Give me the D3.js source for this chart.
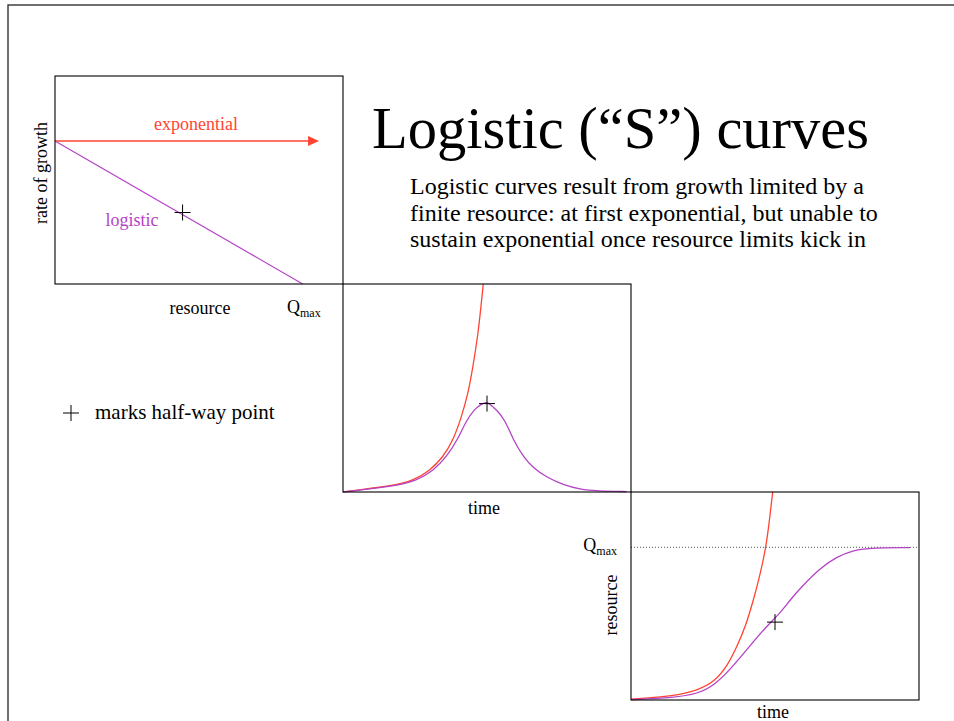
<!DOCTYPE html>
<html>
<head>
<meta charset="utf-8">
<script src="https://d3js.org/d3.v7.min.js"></script>
<style>
  body { margin: 0; background: #fff; }
  svg { display: block; }
  text { font-family: "Liberation Serif", "Times New Roman", serif; fill: #000; }
</style>
</head>
<body>
<svg></svg>
<script>
  // panel 1: rate of growth vs resource (resource as fraction of Qmax)
  var rateResource = [0, 1];
  var rateLogistic = [1, 0];
  var rateExpResource = [0, 1.066];
  var rateExp = [1, 1];
  var halfRate = [0.515, 0.5];

  // panel 2: rate of growth vs time
  var expRateTime = [0, 1.74, 2.43, 3.01, 3.47, 3.82, 4.11, 4.34, 4.51, 4.69, 4.80, 4.87];
  var expRateValue = [0.001, 0.030, 0.054, 0.102, 0.167, 0.247, 0.359, 0.471, 0.600, 0.760, 0.904, 1.0];
  var logRateTime = [0, 1.74, 2.55, 3.13, 3.59, 3.99, 4.28, 4.57, 4.80, 4.98, 5.05, 5.34, 5.63, 5.91, 6.26, 6.61, 7.07, 7.65, 8.23, 8.81, 9.85];
  var logRateValue = [0.0, 0.027, 0.054, 0.102, 0.167, 0.255, 0.343, 0.399, 0.423, 0.431, 0.429, 0.394, 0.346, 0.250, 0.170, 0.114, 0.071, 0.034, 0.013, 0.005, 0.002];
  var halfTimeRate = [5.0, 0.425];

  // panel 3: resource vs time (Qmax = 1)
  var expResTime = [0, 1.50, 2.32, 2.89, 3.36, 3.70, 3.99, 4.23, 4.45, 4.69, 4.80, 4.92];
  var expResValue = [0.005, 0.026, 0.064, 0.118, 0.227, 0.358, 0.489, 0.642, 0.794, 1.002, 1.166, 1.362];
  var logResTime = [0, 1.50, 2.32, 2.89, 3.47, 4.05, 4.63, 5.21, 5.52, 5.98, 6.56, 7.14, 7.72, 8.18, 9.69];
  var logResValue = [0.002, 0.015, 0.041, 0.096, 0.205, 0.336, 0.467, 0.576, 0.655, 0.753, 0.862, 0.938, 0.978, 0.996, 0.998];
  var halfTimeRes = [5.0, 0.51];
  var qmax = 1;

  var titleText = 'Logistic (\u201cS\u201d) curves';
  var bodyLines = [
    'Logistic curves result from growth limited by a',
    'finite resource: at first exponential, but unable to',
    'sustain exponential once resource limits kick in'
  ];

  var width = 954;
  var height = 721;
  var red = '#ff4433';
  var purple = '#b443c6';
  var pw = 288, ph = 208;
  var panels = [{ x: 55, y: 76 }, { x: 343, y: 284 }, { x: 631, y: 492 }];

  var svg = d3.select('svg')
    .attr('width', width)
    .attr('height', height);

  // page frame
  svg.append('rect')
    .attr('x', 8)
    .attr('y', 5)
    .attr('width', width)
    .attr('height', height)
    .attr('fill', 'none')
    .attr('stroke', '#333')
    .attr('stroke-width', 1.4);

  function zip(a, b) {
    return a.map(function (d, i) { return [d, b[i]]; });
  }

  function plus(g, x, y) {
    g.append('path')
      .attr('d', 'M' + (x - 8) + ',' + y + 'H' + (x + 8) + 'M' + x + ',' + (y - 8) + 'V' + (y + 8))
      .attr('stroke', '#000')
      .attr('stroke-width', 1)
      .attr('fill', 'none');
  }

  function qmaxLabel(g, x, y, anchor) {
    var t = g.append('text')
      .attr('x', x)
      .attr('y', y)
      .attr('text-anchor', anchor)
      .style('font-size', '18px');
    t.append('tspan').text('Q');
    t.append('tspan').attr('dy', 4).style('font-size', '12px').text('max');
  }

  var defs = svg.append('defs');
  panels.forEach(function (p, i) {
    defs.append('clipPath')
      .attr('id', 'clip' + i)
      .append('rect')
      .attr('x', p.x)
      .attr('y', p.y)
      .attr('width', pw)
      .attr('height', ph);
  });

  // ---- panel 1
  var p1 = panels[0];
  var x1 = d3.scaleLinear().domain([0, 1]).range([p1.x, p1.x + 247.7]);
  var y1 = d3.scaleLinear().domain([0, 1]).range([p1.y + ph, p1.y + 65]);
  var g1 = svg.append('g');
  var line1 = d3.line()
    .x(function (d) { return x1(d[0]); })
    .y(function (d) { return y1(d[1]); });

  g1.append('path')
    .datum(zip(rateResource, rateLogistic))
    .attr('d', line1)
    .attr('fill', 'none')
    .attr('stroke', purple)
    .attr('stroke-width', 1.2);

  var ax0 = x1(rateExpResource[0]), ax1 = x1(rateExpResource[1]), ay = y1(rateExp[0]);
  g1.append('line')
    .attr('x1', ax0)
    .attr('y1', ay)
    .attr('x2', ax1 - 9)
    .attr('y2', ay)
    .attr('stroke', red)
    .attr('stroke-width', 1.6);
  g1.append('path')
    .attr('d', 'M' + ax1 + ',' + ay + 'L' + (ax1 - 11) + ',' + (ay - 5) + 'L' + (ax1 - 11) + ',' + (ay + 5) + 'Z')
    .attr('fill', red);

  plus(g1, x1(halfRate[0]), y1(halfRate[1]));

  g1.append('text')
    .attr('x', 196)
    .attr('y', 130)
    .attr('text-anchor', 'middle')
    .style('font-size', '18px')
    .style('fill', red)
    .text('exponential');
  g1.append('text')
    .attr('x', 132)
    .attr('y', 226)
    .attr('text-anchor', 'middle')
    .style('font-size', '18px')
    .style('fill', purple)
    .text('logistic');
  g1.append('text')
    .attr('transform', 'translate(47,173) rotate(-90)')
    .attr('text-anchor', 'middle')
    .style('font-size', '18px')
    .text('rate of growth');
  g1.append('text')
    .attr('x', 200)
    .attr('y', 314)
    .attr('text-anchor', 'middle')
    .style('font-size', '18px')
    .text('resource');
  qmaxLabel(g1, 287, 313, 'start');

  // ---- panel 2
  var p2 = panels[1];
  var x2 = d3.scaleLinear().domain([0, 10]).range([p2.x, p2.x + pw]);
  var y2 = d3.scaleLinear().domain([0, 1]).range([p2.y + ph, p2.y]);
  var line2 = d3.line()
    .curve(d3.curveBasis)
    .x(function (d) { return x2(d[0]); })
    .y(function (d) { return y2(d[1]); });
  var g2 = svg.append('g');
  g2.append('path')
    .datum(zip(expRateTime, expRateValue))
    .attr('d', line2)
    .attr('clip-path', 'url(#clip1)')
    .attr('fill', 'none')
    .attr('stroke', red)
    .attr('stroke-width', 1.3);
  g2.append('path')
    .datum(zip(logRateTime, logRateValue))
    .attr('d', line2)
    .attr('fill', 'none')
    .attr('stroke', purple)
    .attr('stroke-width', 1.3);
  plus(g2, x2(halfTimeRate[0]), y2(halfTimeRate[1]));
  g2.append('text')
    .attr('x', x2(4.9))
    .attr('y', p2.y + ph + 22)
    .attr('text-anchor', 'middle')
    .style('font-size', '18px')
    .text('time');

  // ---- panel 3
  var p3 = panels[2];
  var x3 = d3.scaleLinear().domain([0, 10]).range([p3.x, p3.x + pw]);
  var y3 = d3.scaleLinear().domain([0, 1]).range([p3.y + ph, p3.y + 55.3]);
  var line3 = d3.line()
    .curve(d3.curveBasis)
    .x(function (d) { return x3(d[0]); })
    .y(function (d) { return y3(d[1]); });
  var g3 = svg.append('g');
  g3.append('line')
    .attr('x1', p3.x)
    .attr('x2', p3.x + pw - 1)
    .attr('y1', y3(qmax))
    .attr('y2', y3(qmax))
    .attr('stroke', '#555')
    .attr('stroke-width', 1)
    .attr('stroke-dasharray', '1,2');
  g3.append('path')
    .datum(zip(expResTime, expResValue))
    .attr('d', line3)
    .attr('clip-path', 'url(#clip2)')
    .attr('fill', 'none')
    .attr('stroke', red)
    .attr('stroke-width', 1.3);
  g3.append('path')
    .datum(zip(logResTime, logResValue))
    .attr('d', line3)
    .attr('fill', 'none')
    .attr('stroke', purple)
    .attr('stroke-width', 1.3);
  plus(g3, x3(halfTimeRes[0]), y3(halfTimeRes[1]));
  qmaxLabel(g3, 617, y3(qmax) + 4, 'end');
  g3.append('text')
    .attr('transform', 'translate(617,' + (p3.y + 113) + ') rotate(-90)')
    .attr('text-anchor', 'middle')
    .style('font-size', '18px')
    .text('resource');
  g3.append('text')
    .attr('x', x3(4.93))
    .attr('y', p3.y + ph + 18)
    .attr('text-anchor', 'middle')
    .style('font-size', '18px')
    .text('time');

  // panel frames
  svg.append('g')
    .selectAll('rect')
    .data(panels)
    .enter()
    .append('rect')
    .attr('x', function (d) { return d.x; })
    .attr('y', function (d) { return d.y; })
    .attr('width', pw)
    .attr('height', ph)
    .attr('fill', 'none')
    .attr('stroke', '#000')
    .attr('stroke-width', 1.1);

  // title and note
  svg.append('text')
    .attr('x', 372)
    .attr('y', 148)
    .style('font-size', '58.5px')
    .text(titleText);

  svg.append('g')
    .selectAll('text')
    .data(bodyLines)
    .enter()
    .append('text')
    .attr('x', 410)
    .attr('y', function (d, i) { return 194 + i * 26.5; })
    .style('font-size', '24px')
    .text(function (d) { return d; });

  plus(svg, 71, 413);
  svg.append('text')
    .attr('x', 95)
    .attr('y', 419)
    .style('font-size', '21px')
    .text('marks half-way point');
</script>
</body>
</html>
